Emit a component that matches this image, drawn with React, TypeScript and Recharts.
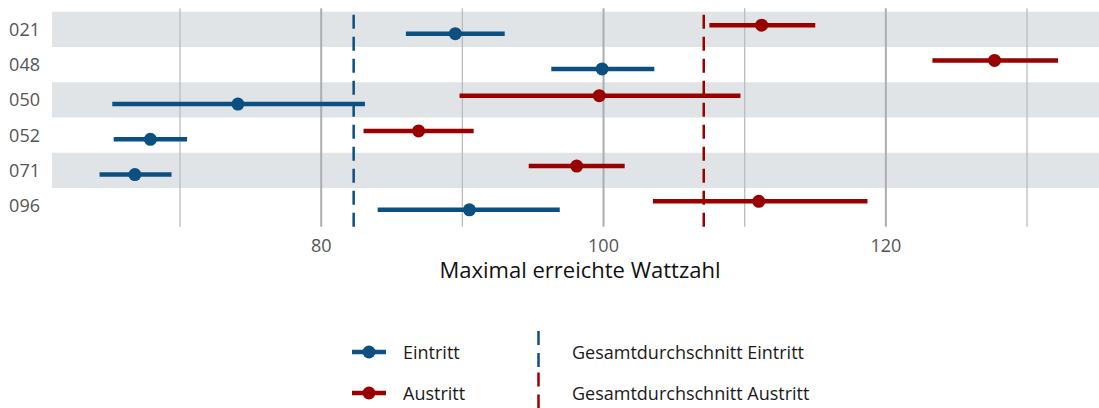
import React from 'react';
import {
  ScatterChart,
  Scatter,
  XAxis,
  YAxis,
  ErrorBar,
  ReferenceArea,
  ReferenceLine,
  Legend,
} from 'recharts';

// Kliniken (row labels, top to bottom)
const ids = ['021', '048', '050', '052', '071', '096'];

// Eintritt: mean with lower/upper interval
const eintrittMean = [89.5, 99.9, 74.1, 67.9, 66.8, 90.5];
const eintrittLow = [86.0, 96.3, 65.2, 65.3, 64.3, 84.0];
const eintrittHigh = [93.0, 103.6, 83.1, 70.5, 69.4, 96.9];

// Austritt: mean with lower/upper interval
const austrittMean = [111.2, 127.7, 99.7, 86.9, 98.1, 111.0];
const austrittLow = [107.5, 123.3, 89.8, 83.0, 94.7, 103.5];
const austrittHigh = [115.0, 132.2, 109.7, 90.8, 101.5, 118.7];

// overall averages (dashed lines)
const gesamtEintritt = 82.3;
const gesamtAustritt = 107.1;

const xTicks = [80, 100, 120];
const minorGrid = [70, 90, 110, 130];

const BLUE = '#0B5080';
const RED = '#990000';
const FONT = '"Open Sans", "Noto Sans", sans-serif';

const DODGE = 0.12;

const eintrittData = ids.map((id, i) => ({
  id,
  x: eintrittMean[i],
  y: i + DODGE,
  err: [eintrittMean[i] - eintrittLow[i], eintrittHigh[i] - eintrittMean[i]],
}));

const austrittData = ids.map((id, i) => ({
  id,
  x: austrittMean[i],
  y: i - DODGE,
  err: [austrittMean[i] - austrittLow[i], austrittHigh[i] - austrittMean[i]],
}));

const dot = (color: string) => (p: any) =>
  <circle cx={p.cx} cy={p.cy} r={6.5} fill={color} />;

const renderLegend = () => {
  const r1 = 32;
  const r2 = 73;
  const textStyle = { fontFamily: FONT, fontSize: 18, fill: '#1a1a1a' };
  return (
    <svg width={1099} height={90}>
      <line x1={352} x2={386} y1={r1} y2={r1} stroke={BLUE} strokeWidth={4.5} />
      <circle cx={369} cy={r1} r={6.5} fill={BLUE} />
      <text x={403} y={r1} dominantBaseline="central" style={textStyle}>Eintritt</text>
      <line x1={352} x2={386} y1={r2} y2={r2} stroke={RED} strokeWidth={4.5} />
      <circle cx={369} cy={r2} r={6.5} fill={RED} />
      <text x={403} y={r2} dominantBaseline="central" style={textStyle}>Austritt</text>

      <line x1={538.5} x2={538.5} y1={r1 - 21} y2={r1 + 20.5} stroke={BLUE} strokeWidth={2.5} strokeDasharray="14 8" />
      <text x={572} y={r1} dominantBaseline="central" style={textStyle}>Gesamtdurchschnitt Eintritt</text>
      <line x1={538.5} x2={538.5} y1={r2 - 20.5} y2={r2 + 21} stroke={RED} strokeWidth={2.5} strokeDasharray="14 8" />
      <text x={572} y={r2} dominantBaseline="central" style={textStyle}>Gesamtdurchschnitt Austritt</text>
    </svg>
  );
};

const App: React.FC = () => {
  return (
    <div style={{ position: 'absolute', left: 0, top: 0, width: 1099, height: 408, background: '#fff' }}>
      <ScatterChart
        width={1099}
        height={408}
        margin={{ top: 8.3, right: 0, bottom: 151.3, left: 0 }}
      >
        <XAxis
          type="number"
          dataKey="x"
          domain={[60.93, 135.1]}
          allowDataOverflow
          ticks={xTicks}
          axisLine={false}
          tickLine={false}
          tickSize={0}
          tickMargin={12.5}
          height={30}
          tick={{ fontSize: 18, fill: '#555555', fontFamily: FONT }}
          label={{
            content: () => (
              <text
                x={580}
                y={278}
                textAnchor="middle"
                style={{ fontFamily: FONT, fontSize: 22, fill: '#111111' }}
              >
                Maximal erreichte Wattzahl
              </text>
            ),
          }}
        />
        <YAxis
          type="number"
          dataKey="y"
          domain={[-0.6, 5.6]}
          reversed
          ticks={[0, 1, 2, 3, 4, 5]}
          tickFormatter={(v: number) => ids[v] ?? ''}
          axisLine={false}
          tickLine={false}
          tickSize={0}
          tickMargin={12}
          width={52}
          tick={{ fontSize: 18, fill: '#555555', fontFamily: FONT }}
        />

        {[0, 2, 4].map((i) => (
          <ReferenceArea key={`band-${i}`} y1={i - 0.5} y2={i + 0.5} fill="#E1E4E7" fillOpacity={1} stroke="none" />
        ))}

        {minorGrid.map((v) => (
          <ReferenceLine key={`minor-${v}`} x={v} stroke="#B9BCBF" strokeWidth={1.3} />
        ))}
        {xTicks.map((v) => (
          <ReferenceLine key={`major-${v}`} x={v} stroke="#ABAEB1" strokeWidth={2} />
        ))}

        <ReferenceLine x={gesamtEintritt} stroke={BLUE} strokeWidth={2.5} strokeDasharray="14 8" />
        <ReferenceLine x={gesamtAustritt} stroke={RED} strokeWidth={2.5} strokeDasharray="14 8" />

        <Scatter name="Eintritt" data={eintrittData} fill={BLUE} shape={dot(BLUE)} isAnimationActive={false}>
          <ErrorBar dataKey="err" direction="x" width={0} stroke={BLUE} strokeWidth={4.5} isAnimationActive={false} />
        </Scatter>
        <Scatter name="Austritt" data={austrittData} fill={RED} shape={dot(RED)} isAnimationActive={false}>
          <ErrorBar dataKey="err" direction="x" width={0} stroke={RED} strokeWidth={4.5} isAnimationActive={false} />
        </Scatter>

        <Legend
          layout="horizontal"
          verticalAlign="middle"
          content={renderLegend}
          wrapperStyle={{ left: 0, top: 320, width: 1099, height: 90 }}
        />
      </ScatterChart>
    </div>
  );
};

export default App;
